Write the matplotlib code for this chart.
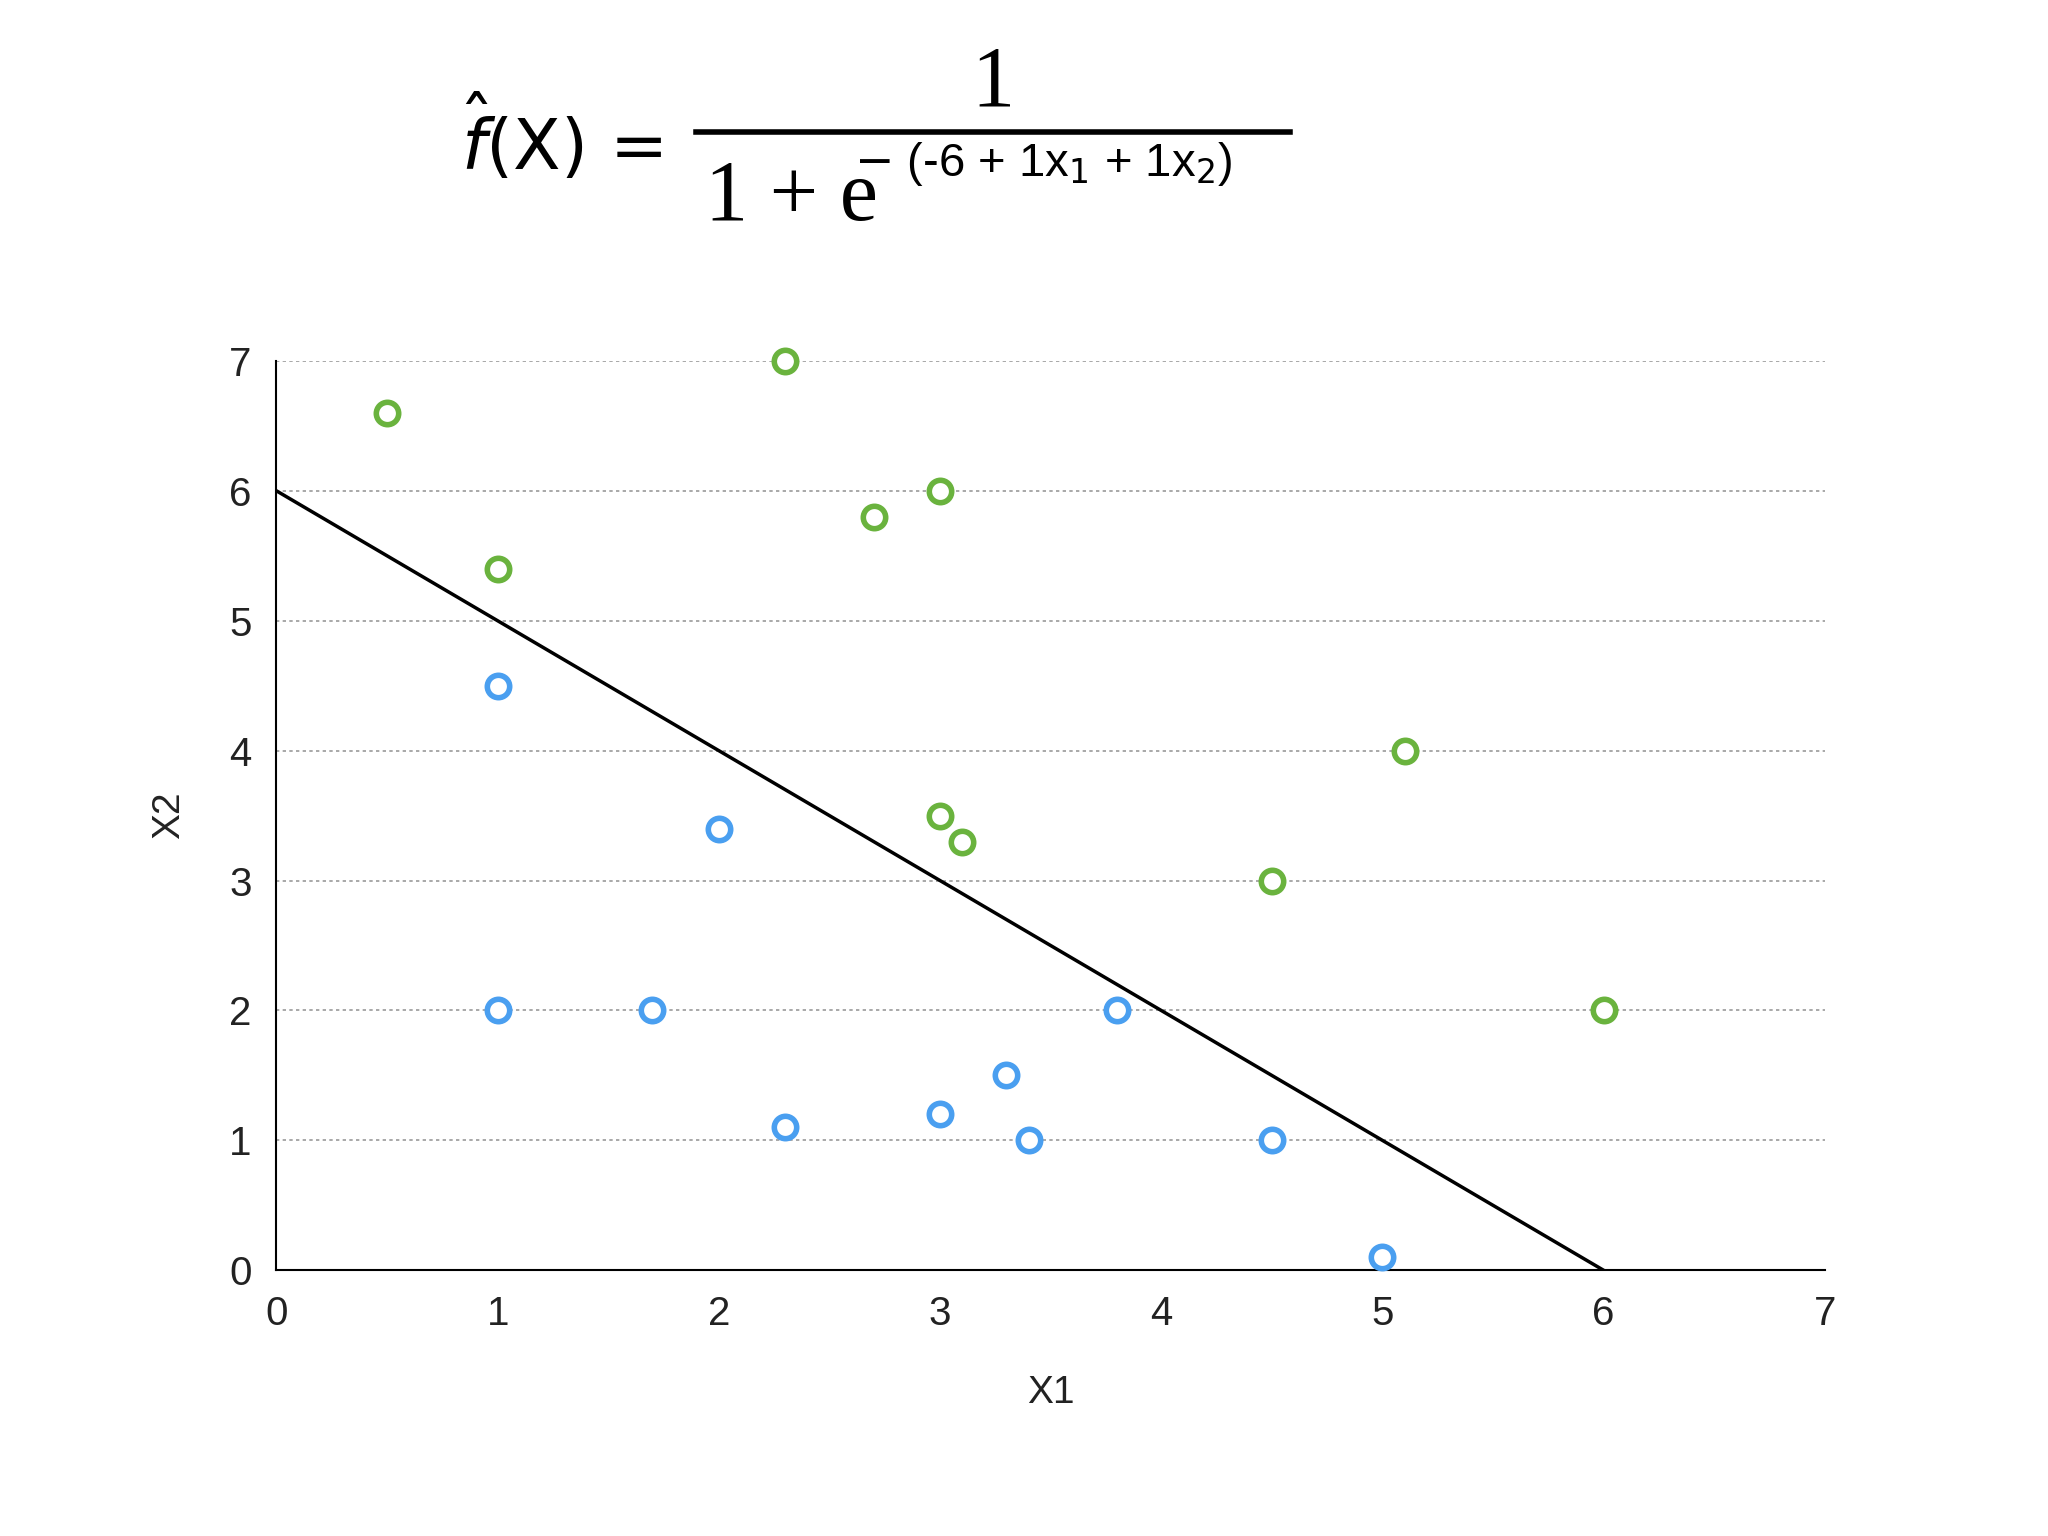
import matplotlib.pyplot as plt

green_x = [0.5, 2.3, 1, 2.7, 3, 3, 3.1, 4.5, 5.1, 6]
green_y = [6.6, 7, 5.4, 5.8, 6, 3.5, 3.3, 3, 4, 2]
blue_x = [1, 2, 1, 1.7, 3.8, 2.3, 3, 3.3, 3.4, 4.5, 5]
blue_y = [4.5, 3.4, 2, 2, 2, 1.1, 1.2, 1.5, 1, 1, 0.1]
line_x = [0, 6]
line_y = [6, 0]

plt.rcParams['font.family'] = ['Liberation Sans', 'DejaVu Sans']
fig = plt.figure(figsize=(20.48, 15.36), dpi=100)
ax = fig.add_axes([0.135, 0.173, 0.756, 0.592])

ax.scatter(green_x, green_y, s=260, facecolors='white', edgecolors='#6ab33e', linewidths=4, zorder=3, clip_on=False)
ax.scatter(blue_x, blue_y, s=260, facecolors='white', edgecolors='#4a9ff0', linewidths=4, zorder=3, clip_on=False)
ax.plot(line_x, line_y, color='black', lw=2.5, zorder=2)

ax.set_xlim(0, 7)
ax.set_ylim(0, 7)
ax.set_xticks(range(8))
ax.set_yticks(range(8))
for y in range(1, 8):
    ax.axhline(y, color='#999999', lw=1.2, ls=(0, (2, 2)), zorder=1)
for s in ['top', 'right']:
    ax.spines[s].set_visible(False)
ax.spines['left'].set_linewidth(1.5)
ax.spines['bottom'].set_linewidth(1.5)
ax.tick_params(length=0, labelsize=29, pad=18, colors='#222222')
ax.set_xlabel('X1', fontsize=28, labelpad=30, color='#222222')
ax.set_ylabel('X2', fontsize=28, labelpad=30, color='#222222')

# formula
fig.text(0.225, 0.91, r'$\hat{f}$(X) =', fontsize=50, va='center', family='DejaVu Sans')
fig.text(0.485, 0.945, '1', fontsize=62, ha='center', va='center', family='Liberation Serif')
fig.add_artist(plt.Line2D([0.34, 0.63], [0.914, 0.914], color='black', lw=4, transform=fig.transFigure))
fig.text(0.344, 0.87, '1 + e', fontsize=62, va='center', family='Liberation Serif')
fig.text(0.417, 0.893, r'$-$ (-6 + 1x$_1$ + 1x$_2$)', fontsize=34, va='center')

fig.savefig('out.png')
